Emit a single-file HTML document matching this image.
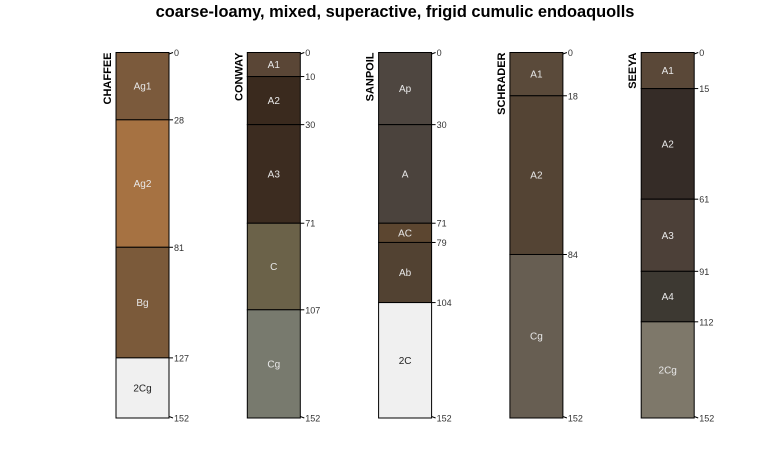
<!DOCTYPE html>
<html><head><meta charset="utf-8"><style>
body{margin:0;background:#fff;}
svg{display:block;font-family:"Liberation Sans",sans-serif;}
</style></head><body>
<svg id="c" width="775" height="450" viewBox="0 0 775 450">
<text x="395" y="17" text-anchor="middle" font-size="16.4" font-weight="bold" fill="#000">coarse-loamy, mixed, superactive, frigid cumulic endoaquolls</text>
</svg>
<script>
const profileNames = ["CHAFFEE","CONWAY","SANPOIL","SCHRADER","SEEYA"];
const horizonNames = [["Ag1","Ag2","Bg","2Cg"],["A1","A2","A3","C","Cg"],["Ap","A","AC","Ab","2C"],["A1","A2","Cg"],["A1","A2","A3","A4","2Cg"]];
const horizonBottoms = [[28,81,127,152],[10,30,71,107,152],[30,71,79,104,152],[18,84,152],[15,61,91,112,152]];
const horizonColors = [["#7b5a3c","#a67242","#7b5a3a","#f0f0f0"],["#5a4636","#3a2a1e","#3c2c20","#6b6249","#787a6e"],["#4e4640","#4b433d","#5c4630","#524232","#f0f0f0"],["#5a4a3a","#544434","#675e52"],["#5a4838","#352c27","#4c4038","#3d3932","#7e786a"]];
const svg=document.getElementById('c'), NS="http://www.w3.org/2000/svg";
const top0=52.5, bot=418, maxD=152, W=53;
const y=d=>top0+d*(bot-top0)/maxD;
const xs=i=>116+i*131.3;
function mk(t,a){const e=document.createElementNS(NS,t);for(const k in a)e.setAttribute(k,a[k]);svg.appendChild(e);return e;}
profileNames.forEach((p,i)=>{
  const x0=xs(i); let prev=0;
  horizonBottoms[i].forEach((b,j)=>{
    const r=mk('rect',{x:x0,y:y(prev),width:W,height:y(b)-y(prev),fill:horizonColors[i][j],stroke:"#000","stroke-width":1});
    
    
    const light=horizonColors[i][j]==="#f0f0f0";
    const t=mk('text',{x:x0+W/2,y:(y(prev)+y(b))/2+3.5,"text-anchor":"middle","font-size":10,fill:light?"#222":"#e8e8e8"});
    t.textContent=horizonNames[i][j];
    
    
    prev=b;
  });
  [0].concat(horizonBottoms[i]).forEach((d,k,arr)=>{
    const yy=y(d), end=(k===0||k===arr.length-1);
    const l=mk('line',{x1:x0+W,y1:end?(k===0?yy+1.5:yy-1.5):yy,x2:x0+W+4,y2:yy,stroke:"#000","stroke-width":1});
    
    
    const t=mk('text',{x:x0+W+5,y:yy+3.5,"font-size":9,fill:"#333"});
    t.textContent=d;
    
    
  });
  const n=mk('text',{transform:`translate(${x0-5},${top0}) rotate(-90)`,"text-anchor":"end","font-size":11,"font-weight":"bold",fill:"#000"});
  n.textContent=p;
  
  
});
</script>
</body></html>
